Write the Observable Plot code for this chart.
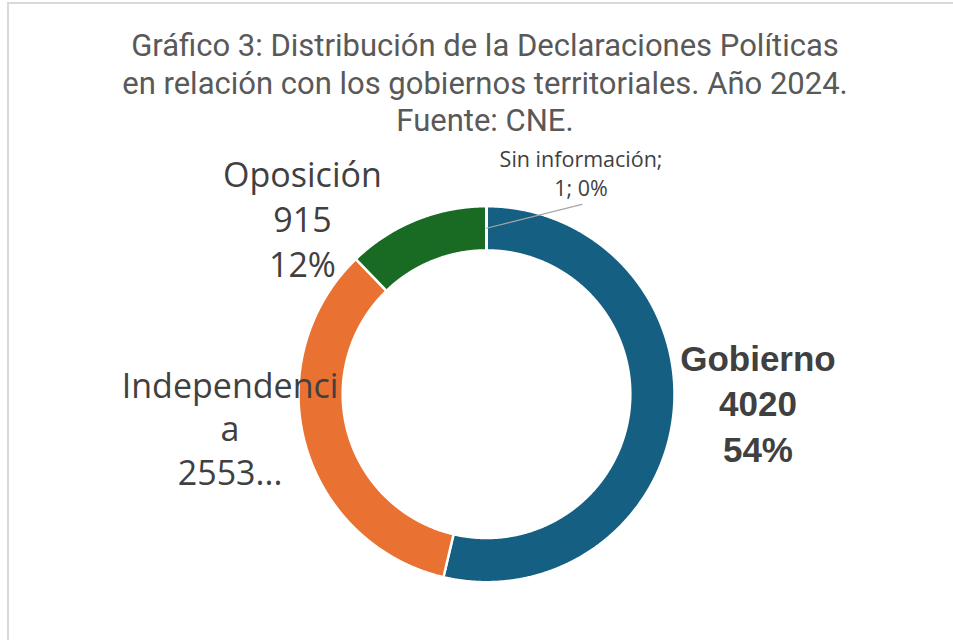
<!DOCTYPE html>
<html>
<head>
<meta charset="utf-8">
<script src="https://cdn.jsdelivr.net/npm/d3@7"></script>
<script src="https://cdn.jsdelivr.net/npm/@observablehq/plot@0.6"></script>
<style>
  html, body { margin: 0; padding: 0; background: #fff; }
  #frame {
    margin-left: 7px; margin-top: 2px;
    border-left: 2px solid #d9d9d9; border-top: 2px solid #d9d9d9;
    width: 944px; height: 636px; overflow: hidden;
  }
  #title {
    height: 135px; box-sizing: border-box; padding-top: 23px;
    text-align: center; color: #595959;
    font-family: "Liberation Sans Narrow", "Roboto", sans-serif;
    font-size: 31px; line-height: 37.5px; padding-left: 8px;
  }
</style>
</head>
<body>
<div id="frame">
  <div id="title">Gráfico 3: Distribución de la Declaraciones Políticas<br>en relación con los gobiernos territoriales. Año 2024.<br>Fuente: CNE.</div>
  <div id="chart"></div>
</div>
<script>
// ---- data ----
const categories = ["Gobierno", "Independencia", "Oposición", "Sin información"];
const values = [4020, 2553, 915, 1];
const percentLabels = ["54%", "34%", "12%", "0%"];
const colors = ["#156082", "#E97132", "#196B24", "#0F9ED5"];

// ---- layout (not data) ----
const W = 944, H = 501;
const cx = 477, cy = 254.7, R = 188;   // pixels
const inner = 0.765;
const labelLayout = {
  "Gobierno":       {x: 1.444, y: -0.039},
  "Independencia":  {x: -1.364, y: -0.175},
  "Oposición":      {x: -0.979, y: 0.940},
  "Sin información":{x: 0.503, y: 1.183}
};
const leaderStart = {x: 0.508, y: 1.01};

const data = categories.map((c, i) => ({name: c, value: values[i], pct: percentLabels[i], color: colors[i]}));
const arcs = d3.pie().sort(null).value(d => d.value).startAngle(0).endAngle(2 * Math.PI)(data);

// polygon points for each slice (angle clockwise from top, y up)
const polys = [];
for (const a of arcs) {
  const n = Math.max(2, Math.ceil((a.endAngle - a.startAngle) / 0.005));
  for (let k = 0; k <= n; k++) {
    const t = a.startAngle + (a.endAngle - a.startAngle) * k / n;
    polys.push({name: a.data.name, x: Math.sin(t), y: Math.cos(t)});
  }
  for (let k = n; k >= 0; k--) {
    const t = a.startAngle + (a.endAngle - a.startAngle) * k / n;
    polys.push({name: a.data.name, x: inner * Math.sin(t), y: inner * Math.cos(t)});
  }
}

const labels = data.map(d => ({...d, ...labelLayout[d.name]}));
const sinArc = arcs[3];
const midR = (1 + inner) / 2;
const sinMid = (sinArc.startAngle + sinArc.endAngle) / 2;
const leader = [
  {x: leaderStart.x, y: leaderStart.y},
  {x: midR * Math.sin(sinMid), y: midR * Math.cos(sinMid)}
];

const textFill = "#404040";
const chart = Plot.plot({
  width: W, height: H,
  margin: 0,
  x: {domain: [-cx / R, (W - cx) / R], range: [0, W], axis: null},
  y: {domain: [-(H - cy) / R, cy / R], range: [H, 0], axis: null},
  color: {domain: categories, range: colors},
  style: {background: "#fff"},
  marks: [
    Plot.line(polys, {x: "x", y: "y", z: "name", fill: "name", stroke: "#fff", strokeWidth: 2.5, curve: "linear-closed"}),
    Plot.line(leader, {x: "x", y: "y", stroke: "#a6a6a6", strokeWidth: 1.2}),
    Plot.text(labels.filter(d => d.name === "Gobierno"), {
      x: "x", y: "y", text: d => `${d.name}\n${d.value}\n${d.pct}`,
      fill: textFill, fontSize: 35, fontWeight: "bold", fontFamily: "Liberation Sans, Arial, sans-serif",
      lineHeight: 1.3, lineAnchor: "middle"
    }),
    Plot.text(labels.filter(d => d.name === "Independencia"), {
      x: "x", y: "y", text: d => `Independenci\na\n${d.value}...`,
      fill: textFill, fontSize: 34, fontFamily: "Open Sans, sans-serif",
      lineHeight: 1.28, lineAnchor: "middle"
    }),
    Plot.text(labels.filter(d => d.name === "Oposición"), {
      x: "x", y: "y", text: d => `${d.name}\n${d.value}\n${d.pct}`,
      fill: textFill, fontSize: 34, fontFamily: "Open Sans, sans-serif",
      lineHeight: 1.32, lineAnchor: "middle"
    }),
    Plot.text(labels.filter(d => d.name === "Sin información"), {
      x: "x", y: "y", text: d => `${d.name};\n${d.value}; ${d.pct}`,
      fill: textFill, fontSize: 21.5, fontFamily: "Open Sans, sans-serif",
      lineHeight: 1.35, lineAnchor: "middle"
    })
  ]
});
document.getElementById("chart").appendChild(chart);
</script>
</body>
</html>
